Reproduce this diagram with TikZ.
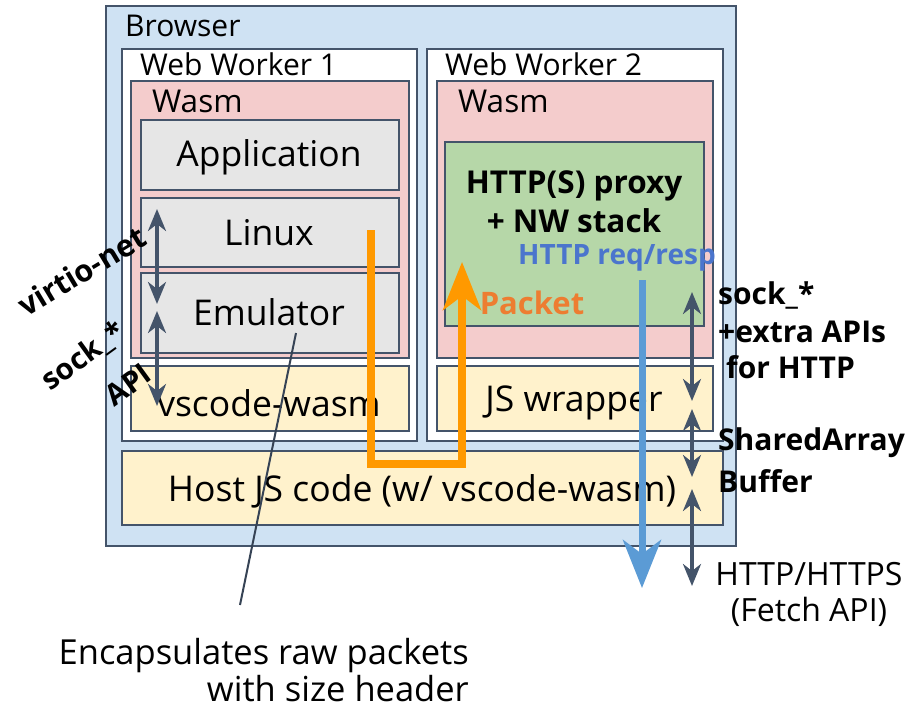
\documentclass[tikz,border=0pt]{standalone}
\usepackage{fontspec}
\setmainfont{Open Sans}
\usetikzlibrary{arrows.meta}
\definecolor{edge}{RGB}{68,84,106}
\definecolor{browserblue}{RGB}{207,226,243}
\definecolor{wasmpink}{RGB}{244,204,204}
\definecolor{modgray}{RGB}{230,230,230}
\definecolor{jsyellow}{RGB}{255,242,204}
\definecolor{proxygreen}{RGB}{182,215,168}
\definecolor{pktorange}{RGB}{255,153,0}
\definecolor{pkttext}{RGB}{237,125,49}
\definecolor{httpblue}{RGB}{91,155,213}
\definecolor{httptext}{RGB}{75,117,205}
\begin{document}
\begin{tikzpicture}[x=1pt,y=-1pt,
  box/.style={draw=edge, line width=1.6pt, inner sep=0pt, anchor=north west},
  tag/.style={inner sep=0pt, anchor=base west, font=\fontsize{30}{33}\selectfont},
  big/.style={inner sep=0pt, font=\fontsize{35.5}{38}\selectfont},
  side/.style={inner sep=0pt, anchor=west, font=\fontsize{30}{33}\selectfont\bfseries},
  slant/.style={inner sep=0pt, font=\fontsize{29.5}{32}\selectfont\bfseries},
  tipd/.tip={Stealth[length=22pt,width=18pt,inset=7pt]},
  link/.style={draw=edge, line width=3.5pt, tipd-tipd},
  fat/.tip={Stealth[length=48pt,width=38pt,inset=14pt]},
]
\useasboundingbox (0,0) rectangle (908,709);

% containers
\node[box, fill=browserblue, minimum width=630pt, minimum height=540pt] (browser) at (105,5) {};
\node[tag] (browserlbl) at (125,37) {Browser};
\node[box, fill=white, minimum width=295pt, minimum height=392pt] (ww1) at (121,48) {};
\node[tag] (ww1lbl) at (140,75) {Web Worker 1};
\node[box, fill=white, minimum width=296pt, minimum height=392pt] (ww2) at (426,48) {};
\node[tag] (ww2lbl) at (445,75) {Web Worker 2};
\node[box, fill=wasmpink, minimum width=278pt, minimum height=277pt] (wasm1) at (130,80) {};
\node[tag, font=\fontsize{31.5}{34}\selectfont] (wasm1lbl) at (152,112) {Wasm};
\node[box, fill=wasmpink, minimum width=276pt, minimum height=277pt] (wasm2) at (436,80) {};
\node[tag, font=\fontsize{31.5}{34}\selectfont] (wasm2lbl) at (458,112) {Wasm};

% worker 1 stack
\node[box, fill=modgray, minimum width=258pt, minimum height=70pt] (app) at (140,119) {};
\node[big] (applbl) at (269,157) {Application};
\node[box, fill=modgray, minimum width=258pt, minimum height=69pt] (linux) at (140,197) {};
\node[big] (linuxlbl) at (269,233) {Linux};
\node[box, fill=modgray, minimum width=258pt, minimum height=80pt] (emu) at (140,272) {};
\node[big] (emulbl) at (269,312) {Emulator};
\node[box, fill=jsyellow, minimum width=278pt, minimum height=65pt] (vsw) at (130,365) {};
\node[big] (vswlbl) at (269,403) {vscode-wasm};

% worker 2 stack
\node[box, fill=proxygreen, minimum width=259pt, minimum height=184pt] (proxy) at (444,141) {};
\node[inner sep=0pt, align=center, font=\fontsize{31.5}{39}\selectfont\bfseries] (proxylbl) at (574,202) {HTTP(S) proxy\\+ NW stack};
\node[box, fill=jsyellow, minimum width=276pt, minimum height=65pt] (jsw) at (436,365) {};
\node[big] (jswlbl) at (574,403) {JS wrapper};

% host layer
\node[box, fill=jsyellow, minimum width=601pt, minimum height=74pt] (host) at (121,450) {};
\node[big] (hostlbl) at (422,491) {Host JS code (w/ vscode-wasm)};

% packet path
\coordinate (pktstart) at (371,230);
\coordinate (pktend) at (462,262);
\draw[pktorange, line width=7.5pt, -fat]
  (pktstart) -- (371,464) -- (462,464) -- (pktend);
\node[inner sep=0pt, text=pkttext, font=\fontsize{31}{34}\selectfont\bfseries] (pktlbl) at (532,303) {Packet};

% HTTP path
\node[inner sep=0pt, text=httptext, font=\fontsize{28}{31}\selectfont\bfseries] (httplbl) at (617,258) {HTTP req/resp};
\coordinate (httpstart) at (642,280);
\coordinate (httpend) at (642,588);
\draw[httpblue, line width=7pt, -fat] (httpstart) -- (httpend);

% interface arrows, worker 1
\coordinate (v1) at (157,209);
\coordinate (v2) at (157,304);
\coordinate (s1) at (157,311);
\coordinate (s2) at (157,406);
\draw[link] (v1) -- (v2);
\draw[link] (s1) -- (s2);
\node[slant, rotate=31, font=\fontsize{30.5}{33}\selectfont\bfseries] (virtiolbl) at (82,271) {virtio-net};
\node[slant, rotate=36] (socklbl) at (84,357) {sock\_*};
\node[slant, rotate=36] (apilbl) at (128,385) {API};

% interface arrows, worker 2 and host
\coordinate (r1) at (692,292);
\coordinate (r2) at (692,401);
\coordinate (r3) at (692,409);
\coordinate (r4) at (692,477);
\coordinate (r5) at (692,489);
\coordinate (r6) at (692,586);
\draw[link] (r1) -- (r2);
\draw[link] (r3) -- (r4);
\draw[link] (r5) -- (r6);
\node[side] (sockx) at (718,295) {sock\_*};
\node[side] (extra) at (718,332) {+extra APIs};
\node[side] (forhttp) at (726,367) {for HTTP};
\node[side] (sab1) at (718,443) {SharedArray};
\node[side] (sab2) at (718,481) {Buffer};
\node[inner sep=0pt, align=center, font=\fontsize{32}{36}\selectfont] (fetch) at (809,594) {HTTP/HTTPS\\(Fetch API)};

% annotation
\coordinate (emupt) at (296,333);
\node[inner sep=0pt, align=right, font=\fontsize{34.5}{37}\selectfont, anchor=east] (note) at (469,670) {Encapsulates raw packets\\with size header};
\coordinate (notept) at (240,605);
\draw[edge!80!black, line width=2pt] (emupt) -- (notept);
\end{tikzpicture}
\end{document}
